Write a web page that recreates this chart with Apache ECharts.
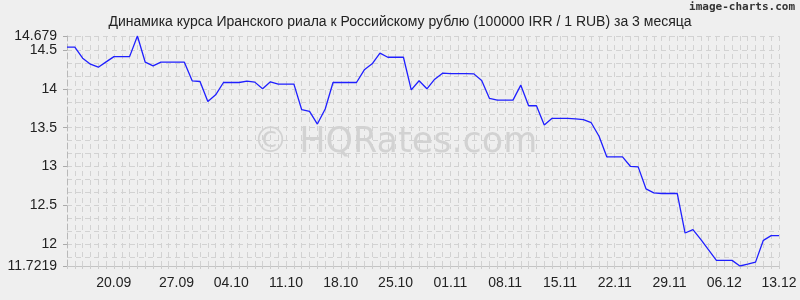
<!DOCTYPE html>
<html>
<head>
<meta charset="utf-8">
<script src="https://cdn.jsdelivr.net/npm/echarts@6/dist/echarts.min.js"></script>
<style>
html,body{margin:0;padding:0;background:#efefef;}
#chart{width:800px;height:300px;}
</style>
</head>
<body>
<div id="chart"></div>
<script>
const titleText = 'Динамика курса Иранского риала к Российскому рублю (100000 IRR / 1 RUB) за 3 месяца';
const dates = [
 '13.09','14.09','15.09','16.09','17.09','18.09','19.09','20.09','21.09','22.09','23.09','24.09','25.09','26.09','27.09','28.09','29.09','30.09',
 '01.10','02.10','03.10','04.10','05.10','06.10','07.10','08.10','09.10','10.10','11.10','12.10','13.10','14.10','15.10','16.10','17.10','18.10','19.10','20.10','21.10','22.10','23.10','24.10','25.10','26.10','27.10','28.10','29.10','30.10','31.10',
 '01.11','02.11','03.11','04.11','05.11','06.11','07.11','08.11','09.11','10.11','11.11','12.11','13.11','14.11','15.11','16.11','17.11','18.11','19.11','20.11','21.11','22.11','23.11','24.11','25.11','26.11','27.11','28.11','29.11','30.11',
 '01.12','02.12','03.12','04.12','05.12','06.12','07.12','08.12','09.12','10.12','11.12','12.12','13.12'
];
const rates = [
 14.535,14.535,14.394,14.317,14.278,14.346,14.414,14.414,14.414,14.679,
 14.342,14.295,14.342,14.342,14.342,14.342,14.103,14.094,13.837,13.923,
 14.081,14.081,14.081,14.099,14.086,14.000,14.090,14.060,14.060,14.060,
 13.731,13.709,13.547,13.740,14.081,14.081,14.081,14.081,14.244,14.321,
 14.458,14.406,14.406,14.406,13.987,14.103,14.000,14.124,14.201,14.195,
 14.195,14.195,14.192,14.106,13.876,13.855,13.855,13.855,14.047,13.782,
 13.782,13.535,13.620,13.620,13.620,13.613,13.603,13.564,13.390,13.124,
 13.124,13.124,13.004,12.996,12.714,12.663,12.654,12.654,12.654,12.146,
 12.189,12.064,11.930,11.794,11.794,11.794,11.7219,11.746,11.772,12.052,
 12.112,12.112
];
const yMin = 11.7219, yMax = 14.679;
const yTickLabels = [11.7219, 12, 12.5, 13, 13.5, 14, 14.5, 14.679];
const yGridValues = [11.7219, 11.8333, 12, 12.1667, 12.3333, 12.5, 12.6667, 12.8333, 13, 13.1667, 13.3333, 13.5, 13.6667, 13.8333, 14, 14.1667, 14.3333, 14.5, 14.679];
const xLabelDates = ['20.09','27.09','04.10','11.10','18.10','25.10','01.11','08.11','15.11','22.11','29.11','06.12','13.12'];

const chart = echarts.init(document.getElementById('chart'), null, {renderer:'canvas'});
const font = 'Liberation Sans, Arial, sans-serif';
chart.setOption({
  backgroundColor: '#efefef',
  animation: false,
  title: {
    text: titleText, left: 'center', top: 10,
    textStyle: {fontFamily: font, fontSize: 14, fontWeight: 'normal', color: '#222'}
  },
  graphic: [
    {type:'text', right: 5, top: 2, style:{text:'image-charts.com', font:'bold 11px DejaVu Sans Mono, monospace', fill:'#333'}},
    {type:'text', left: 253, top: 125, z: 0, style:{text:'© HQRates.com', font:'35px DejaVu Sans, sans-serif', fill:'rgba(0,0,0,0.12)'}}
  ],
  grid: {left: 67, right: 21, top: 36, bottom: 34},
  xAxis: {
    type: 'category', data: dates, boundaryGap: false,
    axisLine: {show: true, lineStyle: {color: '#c4c4c4', width: 1}},
    axisTick: {show: true, interval: 0, length: 5, lineStyle: {color: '#cdcdcd', type: [3,3]}},
    splitLine: {show: true, interval: 0, lineStyle: {color: '#d2d2d2', type: [5,4]}},
    axisLabel: {
      interval: function(i){ return xLabelDates.indexOf(dates[i]) >= 0; },
      fontFamily: font, fontSize: 14, color: '#222', margin: 10,
      formatter: function(v, i){ return v === '20.09' ? '{s|' + v + '}' : v; },
      rich: {s: {fontFamily: font, fontSize: 14, color: '#222', padding: [0,16,0,0]}}
    }
  },
  yAxis: [
    {
      type: 'value', min: yMin, max: yMax, position: 'left',
      axisLine: {show: true, lineStyle: {color: '#b8b8b8', type: [6,3]}},
      axisTick: {show: true, length: 4, customValues: yTickLabels, lineStyle: {color: '#aaa'}},
      splitLine: {show: false},
      axisLabel: {customValues: yTickLabels, fontFamily: font, fontSize: 14, color: '#222', margin: 10,
        formatter: function(v){ return String(v); }}
    },
    {
      type: 'value', min: yMin, max: yMax, position: 'left', offset: 0,
      axisLine: {show: false}, axisLabel: {show: false},
      axisTick: {show: false, customValues: yGridValues},
      splitLine: {show: true, lineStyle: {color: '#d2d2d2', type: [5,4]}}
    }
  ],
  series: [{
    type: 'line', data: rates, yAxisIndex: 0, showSymbol: false, symbol: 'none',
    lineStyle: {color: '#1f1fff', width: 1.3}, z: 5
  }]
});
</script>
</body>
</html>
